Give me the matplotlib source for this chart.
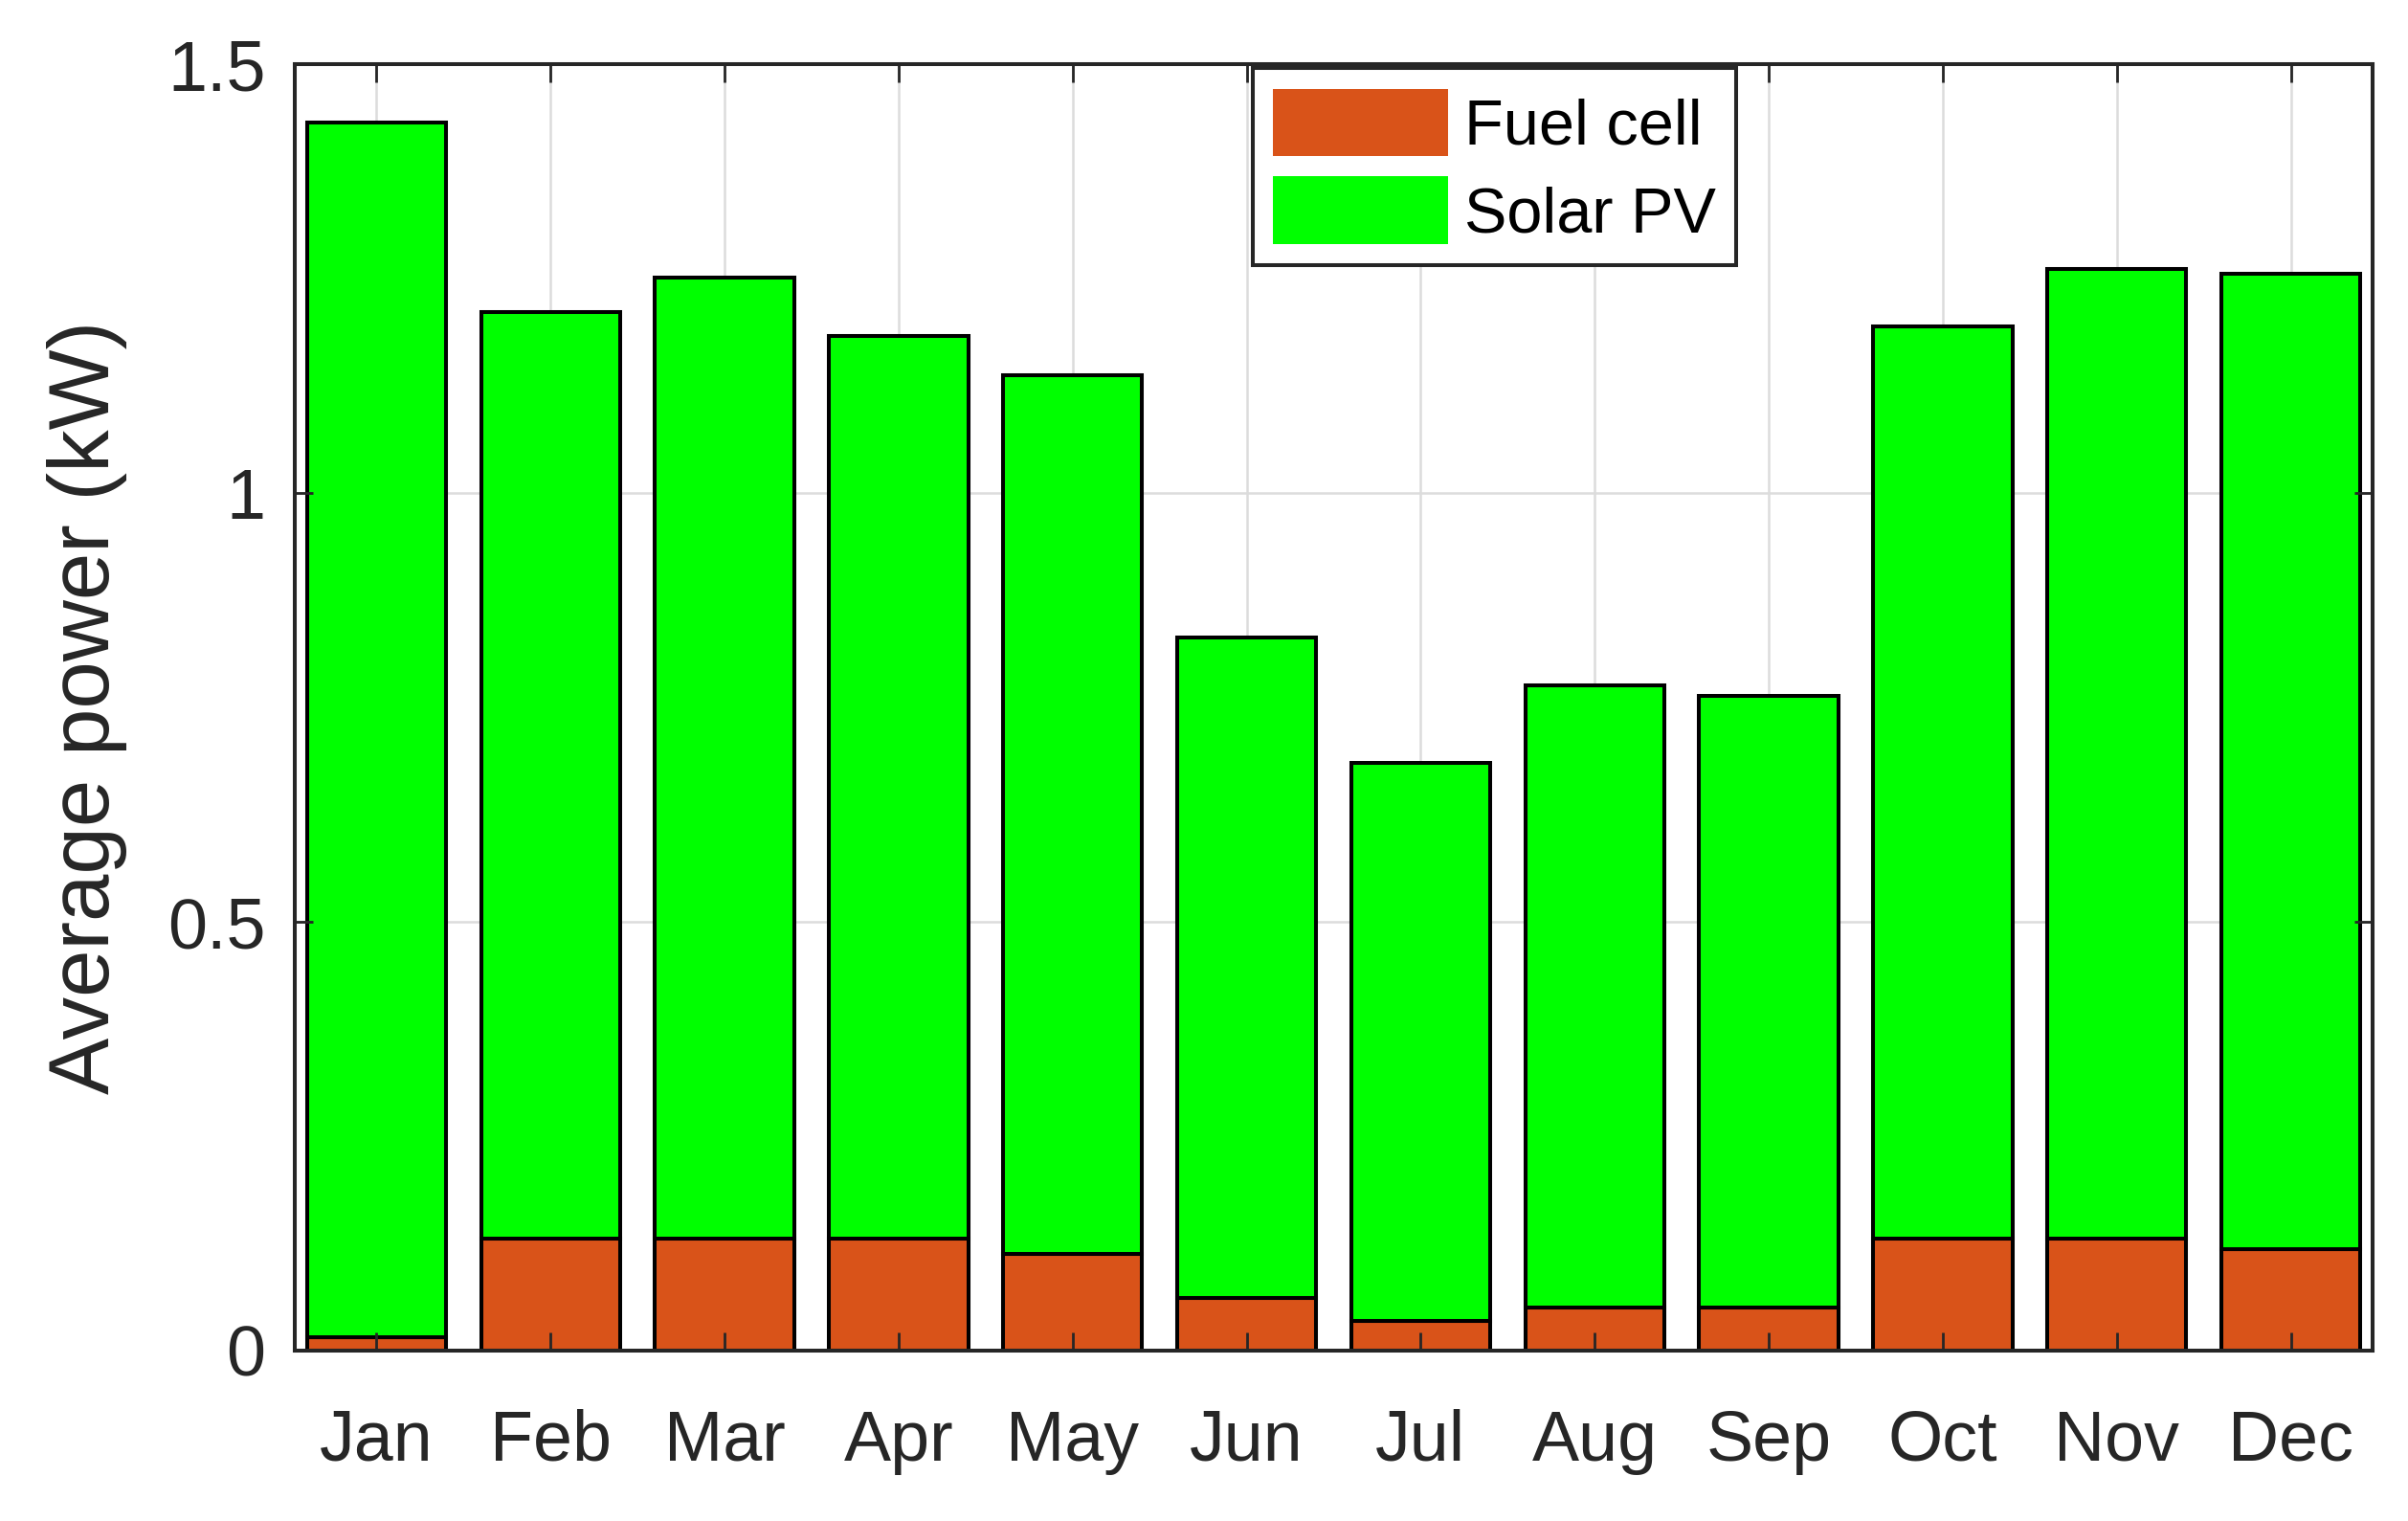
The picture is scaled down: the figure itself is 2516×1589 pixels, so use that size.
import matplotlib
matplotlib.use("Agg")
import matplotlib.pyplot as plt
import numpy as np

months = ["Jan", "Feb", "Mar", "Apr", "May", "Jun", "Jul", "Aug", "Sep", "Oct", "Nov", "Dec"]
fuel_cell = [0.016, 0.131, 0.131, 0.131, 0.113, 0.061, 0.034, 0.050, 0.050, 0.131, 0.131, 0.118]
total = [1.432, 1.211, 1.251, 1.183, 1.138, 0.832, 0.685, 0.776, 0.763, 1.194, 1.262, 1.256]
solar_pv = [t - f for t, f in zip(total, fuel_cell)]
y_ticks = [0, 0.5, 1, 1.5]
y_tick_labels = ["0", "0.5", "1", "1.5"]

plt.rcParams['font.family'] = ['Liberation Sans', 'DejaVu Sans']
txt = '#262626'

fig = plt.figure(figsize=(25.16, 15.89), dpi=100)
ax = fig.add_axes([0.1224, 0.1121, 0.9853 - 0.1224, 0.9576 - 0.1121])
ax.set_axisbelow('line')

x = np.arange(1, len(months) + 1)
ax.bar(x, fuel_cell, width=0.8, color='#D95319', edgecolor='black', linewidth=2.9, label='Fuel cell', zorder=1)
ax.bar(x, solar_pv, width=0.8, bottom=fuel_cell, color='#00FF00', edgecolor='black', linewidth=2.9, label='Solar PV', zorder=1)

ax.set_xlim(0.53, 12.47)
ax.set_ylim(0, 1.5)
ax.set_xticks(x)
ax.set_xticklabels(months)
ax.set_yticks(y_ticks)
ax.set_yticklabels(y_tick_labels)

# grid behind the bars
for xv in x:
    ax.axvline(xv, color='#DCDCDC', linewidth=1.8, zorder=0)
for yv in y_ticks:
    ax.axhline(yv, color='#DCDCDC', linewidth=1.8, zorder=0)

ax.tick_params(axis='both', direction='in', length=14, width=2.0, colors=txt,
               labelsize=53, top=True, right=True)
ax.tick_params(axis='x', pad=44)
ax.tick_params(axis='y', pad=22)
for sp in ax.spines.values():
    sp.set_linewidth(2.9)
    sp.set_color(txt)
    sp.set_zorder(5)

ax.set_ylabel('Average power (kW)', fontsize=64, color=txt, labelpad=30)

leg = ax.legend(loc='upper left', bbox_to_anchor=(0.461, 0.997), borderaxespad=0,
                fontsize=48, fancybox=False, framealpha=1, edgecolor=txt,
                handlelength=2.75, handleheight=1.25, borderpad=0.32,
                labelspacing=0.3, handletextpad=0.25)
leg.get_frame().set_linewidth(2.9)
for t in leg.get_texts():
    t.set_color('black')
for h in leg.legend_handles:
    h.set_edgecolor('none')
leg.set_zorder(10)

fig.savefig('out.png', dpi=100)
